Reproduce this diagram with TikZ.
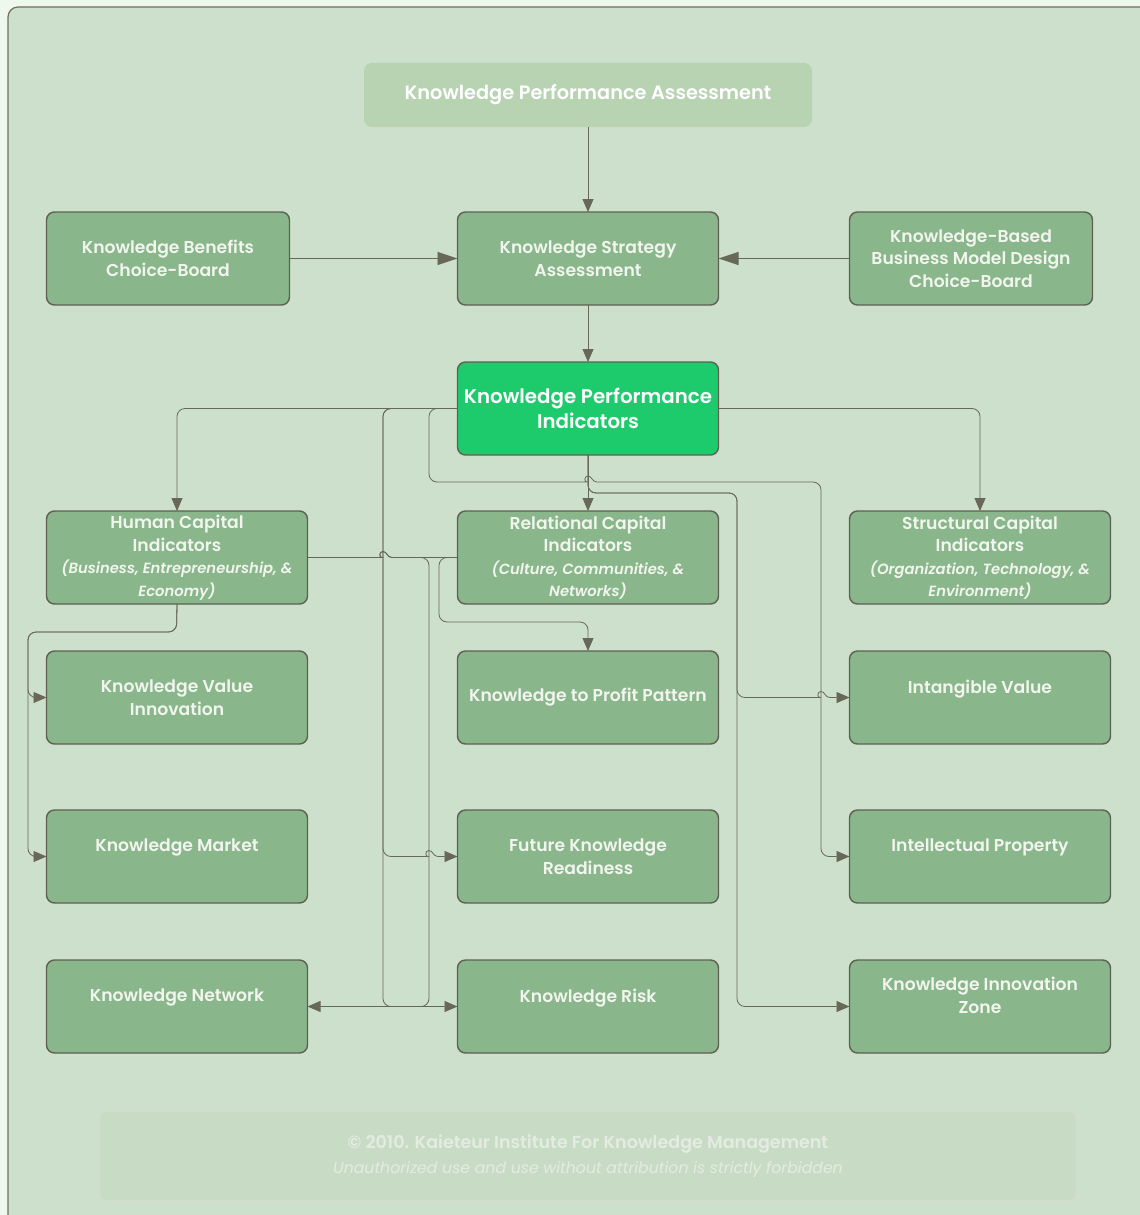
\documentclass[tikz,border=0pt]{standalone}
\usepackage{fontspec}
\setmainfont{Poppins}[BoldFont={Poppins SemiBold}, BoldItalicFont={Poppins SemiBold Italic}]
\usetikzlibrary{arrows.meta, positioning}

\definecolor{pagebg}{HTML}{EEF8EC}
\definecolor{canvas}{HTML}{CDE0CB}
\definecolor{frameline}{HTML}{6E705F}
\definecolor{boxfill}{HTML}{89B68A}
\definecolor{boxline}{HTML}{5E6152}
\definecolor{boxtext}{HTML}{F1F5EE}
\definecolor{kpifill}{HTML}{1ECB6C}
\definecolor{titlefill}{HTML}{B7D3B2}
\definecolor{footfill}{HTML}{C8DCC5}
\definecolor{footline}{HTML}{D5DCD1}
\definecolor{foottext}{HTML}{E4ECE1}
\definecolor{wirecol}{HTML}{676857}

% small bump where one connector crosses another
\newcommand\hop[2]{-- ({#1-9},#2) [sharp corners] .. controls ({#1-4},#2) and ({#1-4},{#2-6}) .. (#1,{#2-6}) .. controls ({#1+4},{#2-6}) and ({#1+4},#2) .. ({#1+9},#2) [rounded corners=8pt]}
\newcommand\subtxt[1]{{\fontsize{14.8}{20}\selectfont\itshape #1}}

\begin{document}
\begin{tikzpicture}[
  x=1pt, y=-1pt,
  kbox/.style={
    rectangle, draw=boxline, line width=1.4pt, rounded corners=8pt,
    fill=boxfill, minimum width=261pt, minimum height=93pt,
    text=boxtext, align=center, inner sep=2pt, outer sep=0pt,
    font=\fontsize{17.2}{22.5}\selectfont\bfseries
  },
  narrow/.style={kbox, minimum width=243pt},
  kpibox/.style={kbox, fill=kpifill, text=white,
    font=\fontsize{19.8}{25}\selectfont\bfseries},
  titlebox/.style={kbox, draw=none, fill=titlefill, text=white,
    minimum width=448pt, minimum height=64pt,
    font=\fontsize{19.3}{22}\selectfont\bfseries},
  footbox/.style={rectangle, draw=footline, line width=1.2pt, rounded corners=8pt,
    fill=footfill, minimum width=978pt, minimum height=90pt,
    text=foottext, align=center, font=\fontsize{16}{25}\selectfont},
  wire/.style={draw=wirecol, line width=0.8pt, rounded corners=8pt},
  arr/.style={wire, -{Triangle[length=13pt,width=11pt]}},
  bigarr/.style={wire, -{Triangle[length=20pt,width=13pt]}}
]
\useasboundingbox (0,0) rectangle (1140,1215);
\fill[pagebg] (0,0) rectangle (1140,1215);
\draw[frameline, line width=1.2pt, fill=canvas, rounded corners=10pt] (8,7) rectangle (1170,1245);

% top rows
\node[titlebox] (kpa) at (588,95) {Knowledge Performance Assessment};
\node[kbox, below=85pt of kpa] (ksa) {Knowledge Strategy\\Assessment};
\node[narrow, left=168pt of ksa] (kbcb) {Knowledge Benefits\\Choice-Board};
\node[narrow, right=131pt of ksa] (kbbm) {Knowledge-Based\\Business Model Design\\Choice-Board};
\node[kpibox, below=57pt of ksa] (kpi) {Knowledge Performance\\Indicators};

% capital indicators
\node[kbox, below=56pt of kpi] (rci) {Relational Capital\\Indicators\\\subtxt{(Culture, Communities, \&}\\\subtxt{Networks)}};
\node[kbox, left=150pt of rci] (hci) {Human Capital\\Indicators\\\subtxt{(Business, Entrepreneurship, \&}\\\subtxt{Economy)}};
\node[kbox, right=131pt of rci] (sci) {Structural Capital\\Indicators\\\subtxt{(Organization, Technology, \&}\\\subtxt{Environment)}};

% outcomes
\node[kbox, below=47pt of rci] (kpp) {Knowledge to Profit Pattern};
\node[kbox, left=150pt of kpp] (kvi) {Knowledge Value\\Innovation};
\node[kbox, right=131pt of kpp] (iv) {Intangible Value\\\mbox{}};
\node[kbox, below=66pt of kpp] (fkr) {Future Knowledge\\Readiness};
\node[kbox, left=150pt of fkr] (km) {Knowledge Market\\\mbox{}};
\node[kbox, right=131pt of fkr] (ip) {Intellectual Property\\\mbox{}};
\node[kbox, below=57pt of fkr] (kr) {Knowledge Risk\\\mbox{}};
\node[kbox, left=150pt of kr] (kn) {Knowledge Network\\\mbox{}};
\node[kbox, right=131pt of kr] (kiz) {Knowledge Innovation\\Zone\\\mbox{}};

\node[footbox] (foot) at (588,1156) {{\fontsize{17.5}{25}\selectfont\bfseries \textcopyright{} 2010. Kaieteur Institute For Knowledge Management}\\
  {\fontsize{15.7}{20}\selectfont\itshape Unauthorized use and use without attribution is strictly forbidden}};

% connectors
\draw[arr] (kpa) -- (ksa);
\draw[bigarr] (kbcb) -- (ksa);
\draw[bigarr] (kbbm) -- (ksa);
\draw[arr] (ksa) -- (kpi);
\draw[arr] (kpi) -- (rci);
\draw[arr] (kpi.west) -| (hci.north);
\draw[arr] (kpi.east) -| (sci.north);
\draw[arr] (kpi.west) -- (383,408.5) -- (383,856.5) \hop{429}{856.5} -- (fkr.west);
\draw[arr] (kpi.west) -- (383,408.5) -- (383,1006.5) -- (kr.west);
\draw[arr] (kpi.west) -- (429,408.5) -- (429,482) \hop{588}{482} -- (821,482) -- (821,856.5) -- (ip.west);
\draw[arr] (kpi.south) -- (588,493) -- (737,493) -- (737,697.5) \hop{821}{697.5} -- (iv.west);
\draw[arr] (kpi.south) -- (588,493) -- (737,493) -- (737,1006.5) -- (kiz.west);
\draw[wire] (hci.east) \hop{383}{557.5} -- (rci.west);
\draw[arr] (hci.east) \hop{383}{557.5} -- (429,557.5) -- (429,1006.5) -- (kn.east);
\draw[arr] (rci.west) -- (439,557.5) -- (439,622) -- (588,622) -- (kpp.north);
\draw[arr] (hci.south) -- (176.5,632) -- (28,632) -- (28,697.5) -- (kvi.west);
\draw[arr] (hci.south) -- (176.5,632) -- (28,632) -- (28,856.5) -- (km.west);

\end{tikzpicture}
\end{document}
